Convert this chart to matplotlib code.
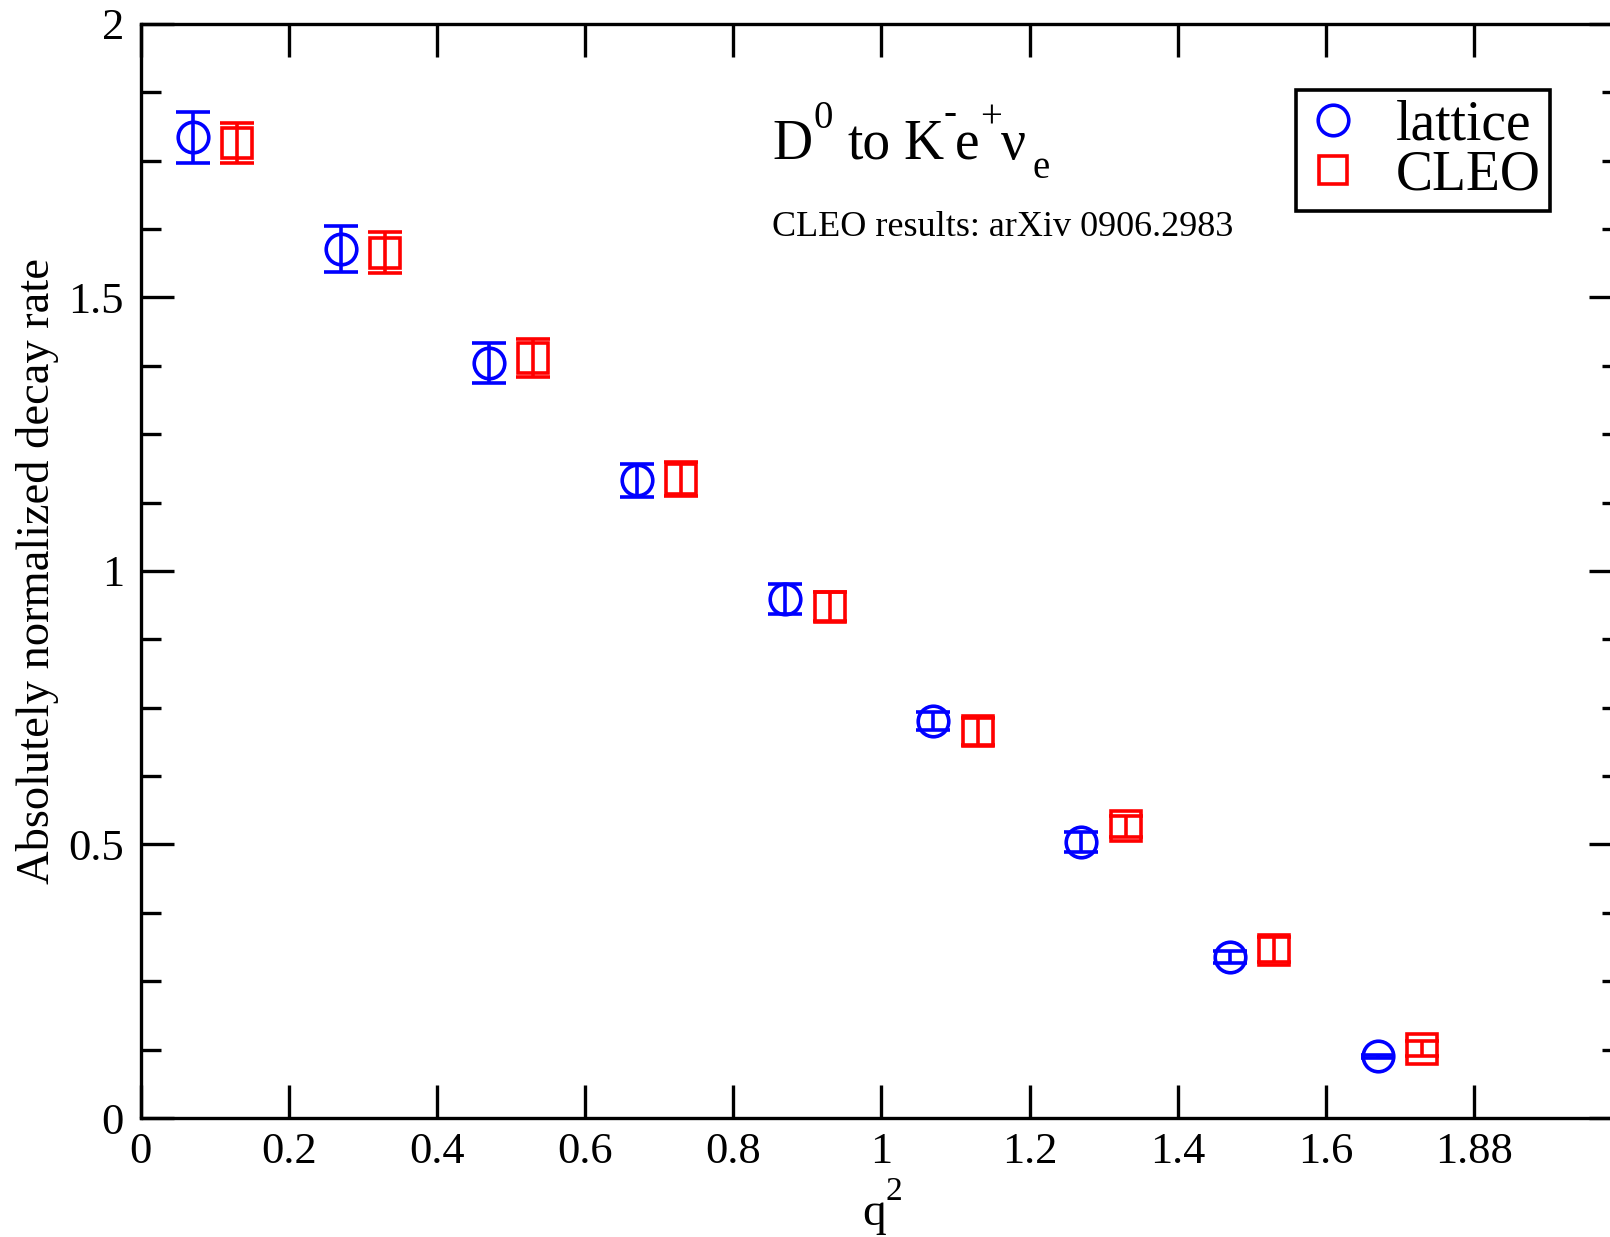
import matplotlib
matplotlib.use('Agg')

import matplotlib.pyplot as plt
from matplotlib.lines import Line2D
from matplotlib.ticker import MultipleLocator

plt.rcParams['font.family'] = ['Liberation Serif', 'DejaVu Serif']

W, H = 1610, 1237

# lattice results
q2_lattice = [0.07, 0.27, 0.47, 0.67, 0.87, 1.07, 1.27, 1.47, 1.67]
rate_lattice = [1.793, 1.589, 1.380, 1.166, 0.949, 0.726, 0.505, 0.295, 0.113]
err_lattice = [0.047, 0.042, 0.036, 0.030, 0.027, 0.017, 0.018, 0.011, 0.003]

# CLEO measurements
q2_cleo = [0.13, 0.33, 0.53, 0.73, 0.93, 1.13, 1.33, 1.53, 1.73]
rate_cleo = [1.782, 1.582, 1.390, 1.168, 0.935, 0.707, 0.533, 0.308, 0.127]
err_cleo = [0.037, 0.037, 0.035, 0.031, 0.027, 0.025, 0.019, 0.022, 0.014]

xtick_pos = [0, 0.2, 0.4, 0.6, 0.8, 1.0, 1.2, 1.4, 1.6, 1.8]
xtick_labels = ['0', '0.2', '0.4', '0.6', '0.8', '1', '1.2', '1.4', '1.6', '1.88']
ytick_pos = [0, 0.5, 1, 1.5, 2]
ytick_labels = ['0', '0.5', '1', '1.5', '2']


def px_text(x, y, s, size, **kw):
    # place text at pixel position (from top-left), baseline anchored
    return fig.text(x / W, 1 - y / H, s, fontsize=size, ha='left',
                    va='baseline', **kw)


fig = plt.figure(figsize=(16.1, 12.37), dpi=100)
ax = fig.add_axes([0.0874, 0.0962, 0.9201, 0.8844])

common = dict(mfc='none', ms=22, mew=2.6, elinewidth=2.6, capthick=2.6,
              capsize=12, linestyle='none')
ax.errorbar(q2_lattice, rate_lattice, yerr=err_lattice, fmt='o',
            color='#0000ff', **common)
ax.errorbar(q2_cleo, rate_cleo, yerr=err_cleo, fmt='s',
            color='#ff0000', **common)

ax.set_xlim(0, 2.0)
ax.set_ylim(0, 2)
ax.set_xticks(xtick_pos)
ax.set_xticklabels(xtick_labels)
ax.set_yticks(ytick_pos)
ax.set_yticklabels(ytick_labels)
ax.yaxis.set_minor_locator(MultipleLocator(0.125))

for s in ax.spines.values():
    s.set_linewidth(2.4)
ax.tick_params(which='both', direction='in', top=True, right=True,
               width=2.4, labelsize=32)
ax.tick_params(which='major', length=24)
ax.tick_params(which='minor', length=14.5)
ax.tick_params(axis='x', pad=10)
ax.tick_params(axis='y', pad=12)

ax.set_ylabel('Absolutely normalized decay rate', fontsize=33.5, labelpad=7)

# x axis label q^2, grace-style raised superscript
px_text(862, 1225, 'q', 34)
px_text(885, 1200, '2', 24)

# title D0 -> K- e+ nu_e
px_text(772, 159, 'D', 40)
px_text(813, 128, '0', 28)
px_text(847, 159, 'to', 40)
px_text(903, 159, 'K', 40)
px_text(943, 124, '-', 28)
px_text(955, 159, 'e', 40)
px_text(980, 128, '+', 28)
px_text(1001, 159, 'ν', 40)
px_text(1032, 178, 'e', 28)

px_text(772, 236, 'CLEO results: arXiv 0906.2983', 26)

handles = [
    Line2D([], [], marker='o', ms=22, mfc='none', mec='#0000ff', mew=2.6,
           linestyle='none'),
    Line2D([], [], marker='s', ms=20, mfc='none', mec='#ff0000', mew=2.6,
           linestyle='none'),
]
leg = ax.legend(handles, ['lattice', 'CLEO'], loc='upper right',
                bbox_to_anchor=(1550 / W, 1 - 90 / H),
                bbox_transform=fig.transFigure, borderaxespad=0,
                fontsize=40, frameon=True, fancybox=False, framealpha=1,
                edgecolor='black', handlelength=1.0, handletextpad=0.62,
                labelspacing=-0.04, borderpad=0.17)
leg.get_frame().set_linewidth(2.6)

fig.savefig('out.png', dpi=100)
